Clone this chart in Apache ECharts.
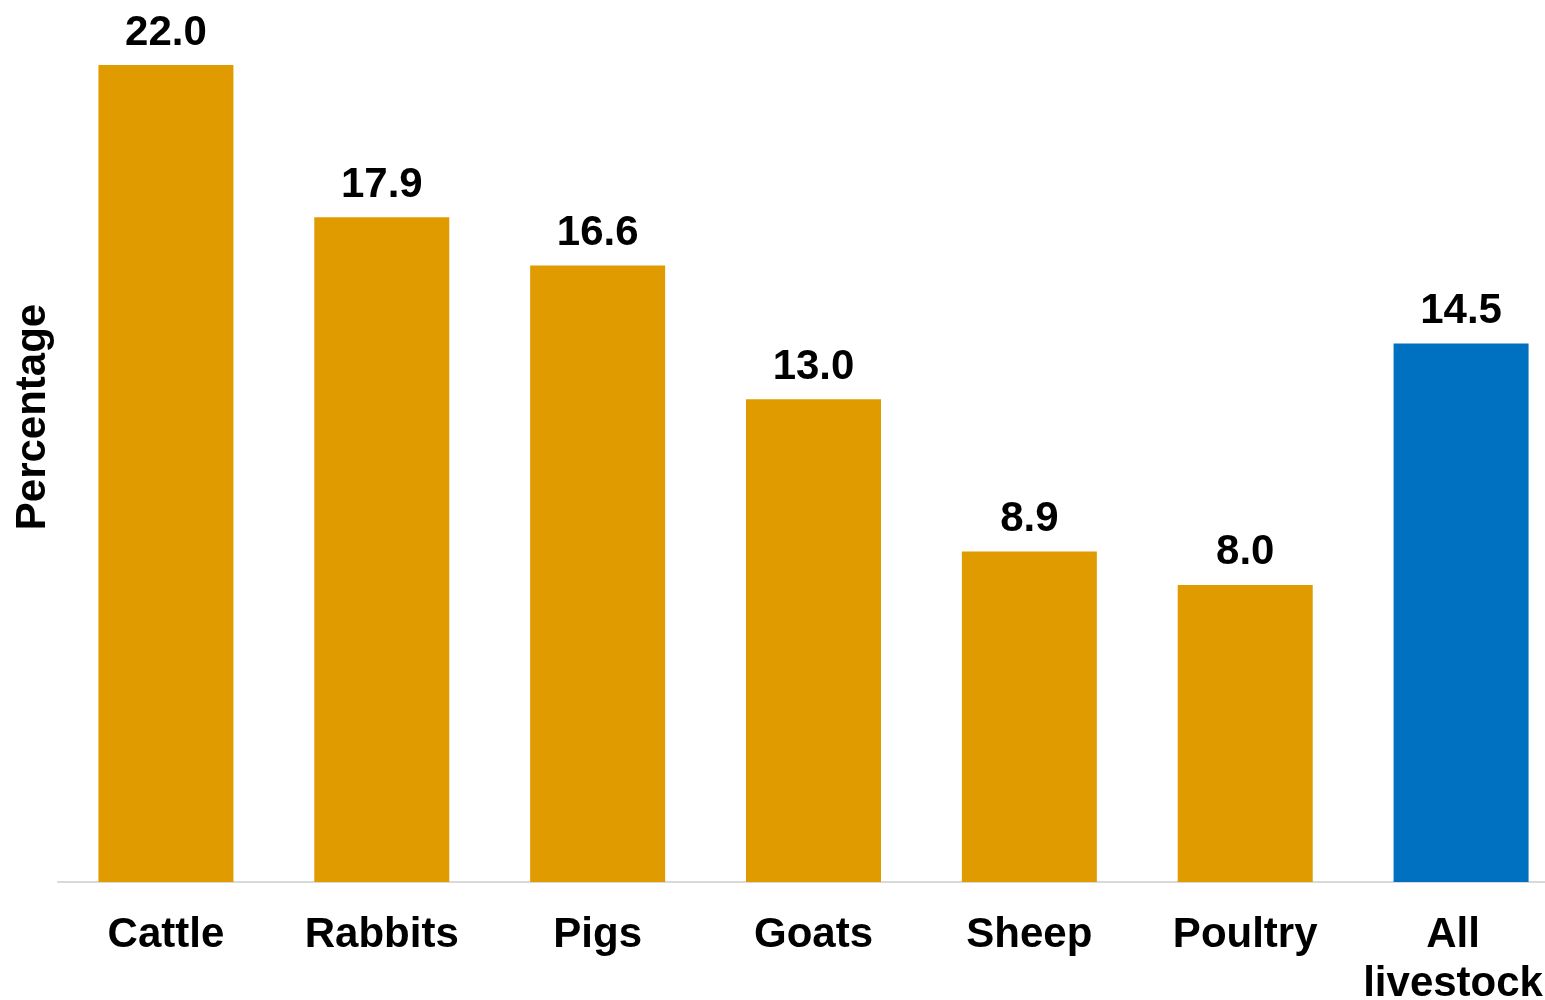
<!DOCTYPE html>
<html>
<head>
<meta charset="utf-8">
<script src="https://cdn.jsdelivr.net/npm/echarts@6/dist/echarts.min.js"></script>
<style>
html,body{margin:0;padding:0;background:#fff;}
#chart{width:1545px;height:1000px;}
</style>
</head>
<body>
<div id="chart"></div>
<script>
const categories = ['Cattle', 'Rabbits', 'Pigs', 'Goats', 'Sheep', 'Poultry', 'All\nlivestock'];
const values = [22.0, 17.9, 16.6, 13.0, 8.9, 8.0, 14.5];
const barColors = ['#E09B00', '#E09B00', '#E09B00', '#E09B00', '#E09B00', '#E09B00', '#0070C0'];
const yAxisTitle = 'Percentage';

const FONT = '"Liberation Sans", Arial, Helvetica, sans-serif';
const chart = echarts.init(document.getElementById('chart'), null, {renderer: 'canvas'});
const lastIdx = categories.length - 1;
chart.setOption({
  animation: false,
  backgroundColor: '#ffffff',
  grid: {left: 58, width: 1511, top: 0, height: 882, containLabel: false, outerBoundsMode: 'none'},
  xAxis: {
    type: 'category',
    data: categories.map((c, i) => i === lastIdx
      ? {value: c, textStyle: {padding: [0, 16, 0, 0]}}
      : c),
    axisLine: {show: true, lineStyle: {color: '#d9d9d9', width: 2}},
    axisTick: {show: false},
    axisLabel: {
      interval: 0,
      color: '#000',
      fontFamily: FONT,
      fontWeight: 'bold',
      fontSize: 42,
      lineHeight: 49,
      margin: 29
    }
  },
  yAxis: {
    type: 'value',
    min: 0,
    max: 23.75,
    axisLine: {show: false},
    axisTick: {show: false},
    axisLabel: {show: false},
    splitLine: {show: false},
    name: yAxisTitle,
    nameLocation: 'middle',
    nameRotate: 90,
    nameGap: 4,
    nameTextStyle: {
      color: '#000',
      fontFamily: FONT,
      fontWeight: 'bold',
      fontSize: 42,
      padding: [0, 0, 0, 48]
    }
  },
  series: [{
    type: 'bar',
    barWidth: 135,
    data: values.map((v, i) => ({value: v, itemStyle: {color: barColors[i]}})),
    label: {
      show: true,
      position: 'top',
      distance: 11,
      formatter: p => p.value.toFixed(1),
      color: '#000',
      fontFamily: FONT,
      fontWeight: 'bold',
      fontSize: 42
    }
  }]
});
</script>
</body>
</html>
